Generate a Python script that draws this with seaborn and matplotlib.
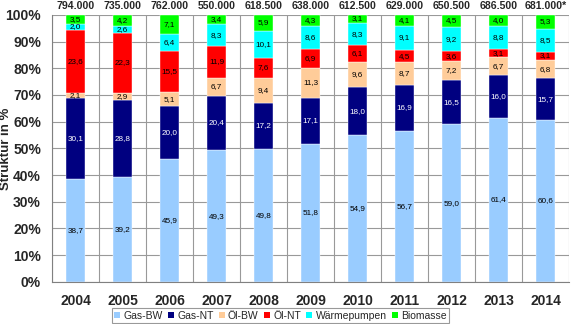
import matplotlib
matplotlib.use("Agg")
import matplotlib.pyplot as plt
import seaborn as sns
import numpy as np
import pandas as pd
from matplotlib.patches import Patch

years = ["2004", "2005", "2006", "2007", "2008", "2009", "2010", "2011", "2012", "2013", "2014"]
totals = ["794.000", "735.000", "762.000", "550.000", "618.500", "638.000", "612.500",
          "629.000", "650.500", "686.500", "681.000*"]
gas_bw = [38.7, 39.2, 45.9, 49.3, 49.8, 51.8, 54.9, 56.7, 59.0, 61.4, 60.6]
gas_nt = [30.1, 28.8, 20.0, 20.4, 17.2, 17.1, 18.0, 16.9, 16.5, 16.0, 15.7]
oel_bw = [2.1, 2.9, 5.1, 6.7, 9.4, 11.3, 9.6, 8.7, 7.2, 6.7, 6.8]
oel_nt = [23.6, 22.3, 15.5, 11.9, 7.6, 6.9, 6.1, 4.5, 3.6, 3.1, 3.1]
waermepumpen = [2.0, 2.6, 6.4, 8.3, 10.1, 8.6, 8.3, 9.1, 9.2, 8.8, 8.5]
biomasse = [3.5, 4.2, 7.1, 3.4, 5.9, 4.3, 3.1, 4.1, 4.5, 4.0, 5.3]

series = [
    ("Gas-BW", gas_bw, "#99CCFF", "black"),
    ("Gas-NT", gas_nt, "#000080", "white"),
    ("Öl-BW", oel_bw, "#FFCC99", "black"),
    ("Öl-NT", oel_nt, "#FF0000", "black"),
    ("Wärmepumpen", waermepumpen, "#00FFFF", "black"),
    ("Biomasse", biomasse, "#00FF00", "black"),
]

sns.set_style("white")
plt.rcParams['font.family'] = ['Liberation Sans', 'DejaVu Sans']

fig = plt.figure(figsize=(5.72, 3.24), dpi=100)
ax = fig.add_axes([0.091, 0.13, 0.904, 0.824])

bottom = np.zeros(len(years))
for name, vals, color, tcolor in series:
    df = pd.DataFrame({"Jahr": years, "v": vals})
    sns.barplot(data=df, x="Jahr", y="v", color=color, bottom=bottom, width=0.4,
                ax=ax, saturation=1, edgecolor="white", linewidth=0.3)
    cont = ax.containers[-1]
    ax.bar_label(cont, labels=[f"{v:.1f}".replace(".", ",") for v in vals],
                 label_type="center", fontsize=5.9, color=tcolor)
    bottom = bottom + np.array(vals)

for i, t in enumerate(totals):
    ax.text(i, 101.5, t, ha="center", va="bottom", fontsize=7.6, fontweight="bold",
            clip_on=False)

ax.set_ylim(0, 100)
ax.set_xlim(-0.5, len(years) - 0.5)
ax.set_yticks(np.arange(0, 101, 10))
ax.set_yticklabels([f"{v}%" for v in range(0, 101, 10)], fontsize=10, fontweight="bold")
ax.set_xticks(range(len(years)))
ax.set_xticklabels(years, fontsize=10, fontweight="bold")
ax.set_xticks(np.arange(-0.5, len(years), 1), minor=True)
ax.tick_params(axis="x", which="major", length=0, pad=9)
ax.tick_params(axis="x", which="minor", length=4, color="#808080", direction="out")
ax.tick_params(axis="y", length=3, color="#808080", pad=5)
ax.set_xlabel("")
ax.set_ylabel("Struktur in %", fontsize=9.5, fontweight="bold")
ax.yaxis.set_label_coords(-0.078, 0.5)
ax.grid(axis="y", which="major", color="#999999", linewidth=0.8)
ax.grid(axis="x", which="minor", color="#999999", linewidth=0.8)
ax.grid(axis="x", which="major", visible=False)
ax.set_axisbelow(True)
for s in ["top", "right"]:
    ax.spines[s].set_visible(False)
for s in ["left", "bottom"]:
    ax.spines[s].set_color("#808080")

handles = [Patch(facecolor=c, edgecolor="none", label=n) for n, _, c, _ in series]
leg = fig.legend(handles=handles, loc="center", bbox_to_anchor=(0.49, 0.026), ncol=6,
                 fontsize=7.5, frameon=True, fancybox=False, handlelength=0.6,
                 handleheight=0.6, handletextpad=0.3, columnspacing=0.5,
                 borderpad=0.2, borderaxespad=0)
leg.get_frame().set_edgecolor("#808080")
leg.get_frame().set_linewidth(0.8)

fig.savefig("out.png", dpi=100)
